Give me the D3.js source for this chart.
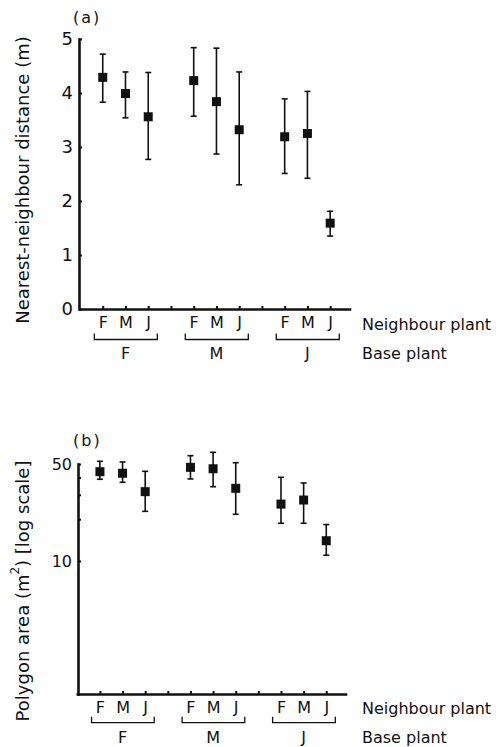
<!DOCTYPE html>
<html><head><meta charset="utf-8">
<script src="https://cdn.jsdelivr.net/npm/d3@7"></script>
<style>
body{margin:0;background:#fff;}
svg{display:block;}
text{font-family:"DejaVu Sans",sans-serif;fill:#111;}
</style></head>
<body>
<script>
// ---- data ----
const neighbour = ["F","M","J"];
const base = ["F","M","J"];
// panel (a): nearest-neighbour distance (m), order base F(F,M,J), M(F,M,J), J(F,M,J)
const distMean  = [4.29, 3.99, 3.56, 4.23, 3.84, 3.32, 3.19, 3.25, 1.59];
const distUpper = [4.72, 4.39, 4.38, 4.84, 4.83, 4.39, 3.89, 4.03, 1.81];
const distLower = [3.83, 3.54, 2.77, 3.57, 2.87, 2.30, 2.51, 2.42, 1.35];
const distTicks = [0,1,2,3,4,5];
// panel (b): polygon area (m^2), log scale
const areaMean  = [44.0, 42.9, 31.6, 47.3, 46.2, 33.4, 25.7, 27.5, 14.0];
const areaUpper = [52.3, 51.7, 44.3, 57.4, 60.7, 51.1, 40.1, 36.5, 18.3];
const areaLower = [38.8, 36.9, 22.8, 39.0, 34.3, 21.7, 18.7, 18.7, 11.0];
const areaTicks = [10,20,30,40,50];
const areaLabelled = [10,50];

const W = 496, H = 747;
const svg = d3.select("body").append("svg").attr("width",W).attr("height",H);

// position index: base group g, neighbour n -> 1 + g*4 + n
const slots = [];
base.forEach((b,g)=>neighbour.forEach((n,k)=>slots.push({base:b, nb:n, pos:1+g*4+k})));
const tickPos = d3.range(1,12);

function panel(o){
  const x = d3.scaleLinear().domain([0,11.85]).range([o.x0,o.x1]);
  const y = o.y;
  const g = svg.append("g");

  // y axis
  const ya = g.append("g").attr("transform",`translate(${o.ax},0)`)
    .call(d3.axisLeft(y).tickValues(o.yTicks).tickSizeInner(-3).tickSizeOuter(0)
      .tickPadding(6).tickFormat(o.yFmt));
  ya.select(".domain").attr("stroke","#111").attr("stroke-width",2.6).attr("stroke-linecap","square");
  ya.selectAll(".tick line").attr("stroke","#111").attr("stroke-width",2);
  ya.selectAll(".tick text").attr("font-size",o.yFont).attr("font-family","DejaVu Sans").attr("fill","#111");

  // x axis
  const xa = g.append("g").attr("transform",`translate(0,${o.axY})`)
    .call(d3.axisBottom(x).tickValues(tickPos).tickSizeInner(-3).tickSizeOuter(0)
      .tickPadding(8).tickFormat(p=>{const s=slots.find(d=>d.pos===p);return s?s.nb:"";}));
  xa.select(".domain").attr("stroke","#111").attr("stroke-width",2.6).attr("stroke-linecap","square");
  xa.selectAll(".tick line").attr("stroke","#111").attr("stroke-width",2);
  xa.selectAll(".tick text").attr("font-size",16).attr("font-family","DejaVu Sans").attr("fill","#111");

  // brackets for base plant
  base.forEach((b,gi)=>{
    const c = 2 + gi*4;
    const xl = x(c-1.37), xr = x(c+1.4);
    g.append("path")
      .attr("d",`M${xl},${o.brY-6}V${o.brY}H${xr}V${o.brY-6}`)
      .attr("fill","none").attr("stroke","#111").attr("stroke-width",1.3);
    g.append("text").attr("x",x(c)).attr("y",o.baseY).attr("text-anchor","middle")
      .attr("dominant-baseline","central").attr("font-size",16).text(b);
  });
  g.append("text").attr("x",362).attr("y",o.nbY).attr("dominant-baseline","central")
    .attr("font-size",16).text("Neighbour plant");
  g.append("text").attr("x",362).attr("y",o.baseY).attr("dominant-baseline","central")
    .attr("font-size",16).text("Base plant");

  // panel letter
  g.append("text").attr("x",73).attr("y",o.letterY).attr("dominant-baseline","central")
    .attr("font-size",16).attr("letter-spacing",2).text(o.letter);

  // y title
  const t = g.append("text").attr("transform",`translate(22,${o.titleY}) rotate(-90)`)
    .attr("text-anchor","middle").attr("dominant-baseline","central").attr("font-size",o.titleFont);
  o.title(t);

  // error bars + squares
  const pts = g.append("g");
  slots.forEach((s,i)=>{
    const cx = x(s.pos);
    pts.append("line").attr("x1",cx).attr("x2",cx).attr("y1",y(o.up[i])).attr("y2",y(o.lo[i]))
      .attr("stroke","#111").attr("stroke-width",1.6);
    [o.up[i],o.lo[i]].forEach(v=>pts.append("line").attr("x1",cx-3).attr("x2",cx+3)
      .attr("y1",y(v)).attr("y2",y(v)).attr("stroke","#111").attr("stroke-width",1.6));
    pts.append("rect").attr("x",cx-4.5).attr("y",y(o.mean[i])-4.5).attr("width",9).attr("height",9)
      .attr("fill","#111");
  });
}

panel({
  x0:80, x1:349.5, ax:79, axY:309,
  y: d3.scaleLinear().domain([0,5]).range([309,39]),
  yTicks: distTicks, yFmt: d3.format("d"), yFont:18,
  mean:distMean, up:distUpper, lo:distLower,
  brY:339.5, baseY:353.5, nbY:324, letterY:17, letter:"(a)",
  titleY:180, titleFont:18,
  title: t=>t.text("Nearest-neighbour distance (m)")
});

panel({
  x0:77.3, x1:345.5, ax:78, axY:694,
  y: d3.scaleLog().domain([1.1,50]).range([694,464]),
  yTicks: areaTicks, yFmt: v=>areaLabelled.includes(v)?String(v):"", yFont:16,
  mean:areaMean, up:areaUpper, lo:areaLower,
  brY:722.7, baseY:737.5, nbY:708, letterY:440, letter:"(b)",
  titleY:591, titleFont:18,
  title: t=>{t.append("tspan").text("Polygon area (m");
    t.append("tspan").attr("baseline-shift","super").attr("font-size",12).text("2");
    t.append("tspan").text(") [log scale]");}
});
</script>
</body></html>
